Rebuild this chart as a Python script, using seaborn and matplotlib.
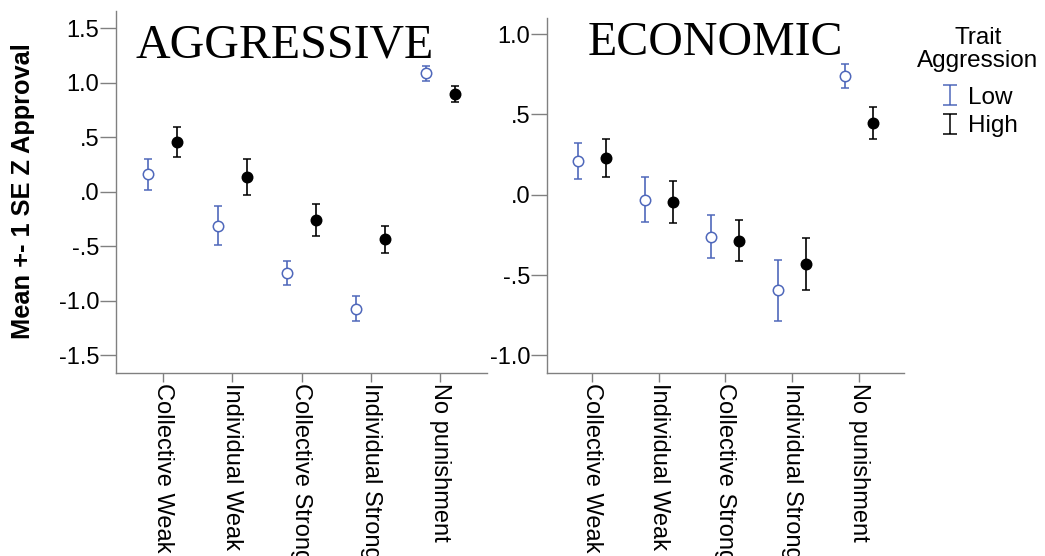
import numpy as np
import pandas as pd
import matplotlib
matplotlib.use("Agg")
import matplotlib.pyplot as plt
from matplotlib.lines import Line2D
from matplotlib.path import Path
from matplotlib.ticker import FuncFormatter
import seaborn as sns

# 数据：平均值与标准误
conditions = ["Collective Weak", "Individual Weak", "Collective Strong",
              "Individual Strong", "No punishment"]
traits = ["Low", "High"]

aggr_low_mean = [0.16, -0.31, -0.74, -1.07, 1.085]
aggr_low_se = [0.14, 0.18, 0.11, 0.115, 0.07]
aggr_high_mean = [0.455, 0.14, -0.26, -0.435, 0.895]
aggr_high_se = [0.14, 0.165, 0.145, 0.125, 0.075]

econ_low_mean = [0.21, -0.03, -0.26, -0.595, 0.74]
econ_low_se = [0.11, 0.14, 0.135, 0.19, 0.075]
econ_high_mean = [0.23, -0.045, -0.285, -0.43, 0.445]
econ_high_se = [0.12, 0.13, 0.13, 0.16, 0.10]

rows = []
for panel, lm, ls, hm, hs in [
    ("AGGRESSIVE", aggr_low_mean, aggr_low_se, aggr_high_mean, aggr_high_se),
    ("ECONOMIC", econ_low_mean, econ_low_se, econ_high_mean, econ_high_se),
]:
    for i, cond in enumerate(conditions):
        rows.append((panel, cond, "Low", lm[i], ls[i]))
        rows.append((panel, cond, "High", hm[i], hs[i]))
df = pd.DataFrame(rows, columns=["panel", "condition", "trait", "mean", "se"])

low_color = "#4f68bb"
high_color = "#000000"
spine_color = "#808080"

sns.set_style("ticks")
plt.rcParams["font.family"] = ["Liberation Sans", "DejaVu Sans"]
plt.rcParams["text.color"] = "black"
plt.rcParams["axes.labelcolor"] = "black"
plt.rcParams["xtick.color"] = "black"
plt.rcParams["ytick.color"] = "black"

W, H = 1045, 556
fig = plt.figure(figsize=(W / 100, H / 100), dpi=100)
ax1 = fig.add_axes([116 / W, 1 - 372.5 / H, 371 / W, 362 / H])
ax2 = fig.add_axes([546.7 / W, 1 - 372.5 / H, 357.5 / W, 354.5 / H])

styles = {
    "Low": dict(color=low_color, mfc="white", offset=-0.21),
    "High": dict(color=high_color, mfc=high_color, offset=0.21),
}


def fmt(v, pos):
    s = f"{v:.1f}"
    s = s.replace("0.", ".", 1) if s.startswith(("0.", "-0.")) else s
    return s


for ax, panel, ylim, yticks in [
    (ax1, "AGGRESSIVE", (-1.656, 1.662), np.arange(-1.5, 1.51, 0.5)),
    (ax2, "ECONOMIC", (-1.106, 1.10), np.arange(-1.0, 1.01, 0.5)),
]:
    sub = df[df["panel"] == panel]
    for trait in traits:
        d = sub[sub["trait"] == trait]
        st = styles[trait]
        x = d["condition"].map({c: i for i, c in enumerate(conditions)}) + st["offset"]
        ax.errorbar(x, d["mean"], yerr=d["se"], fmt="o", color=st["color"],
                    mfc=st["mfc"], mec=st["color"], ms=7.5, mew=1.1,
                    elinewidth=1.2, capsize=2.8, capthick=1.2)
    ax.set_xlim(-0.677, 4.677)
    ax.set_ylim(*ylim)
    ax.set_xticks(range(len(conditions)))
    ax.set_xticklabels(conditions)
    ax.set_yticks(yticks)
    ax.yaxis.set_major_formatter(FuncFormatter(fmt))
    sns.despine(ax=ax)
    for sp in ["left", "bottom"]:
        ax.spines[sp].set_color(spine_color)
        ax.spines[sp].set_linewidth(1.0)
    ax.tick_params(axis="y", length=11.5, width=1, color=spine_color,
                   labelcolor="black", pad=0.5, labelsize=17)
    ax.tick_params(axis="x", length=6.5, width=1, color=spine_color,
                   labelcolor="black", pad=1, labelsize=17, labelrotation=270)

ax1.set_ylabel("Mean +- 1 SE Z Approval", fontsize=18.3, fontweight="bold")
ax1.yaxis.set_label_coords(-0.218, 0.5)

fig.text(284.5 / W, 1 - 57 / H, "AGGRESSIVE", family=["Liberation Serif"],
         fontsize=34.5, ha="center", va="baseline")
fig.text(715 / W, 1 - 55 / H, "ECONOMIC", family=["Liberation Serif"],
         fontsize=34.5, ha="center", va="baseline")

# 图例标题单独放置，居中对齐
fig.text(978 / W, 1 - 27 / H, "Trait\nAggression", fontsize=17.5,
         ha="center", va="top", multialignment="center", linespacing=1.05)

# 误差棒形状的图例标记
ibar = Path([(-0.35, 0.5), (0.35, 0.5), (0, 0.5), (0, -0.5),
             (-0.35, -0.5), (0.35, -0.5)],
            [Path.MOVETO, Path.LINETO, Path.MOVETO, Path.LINETO,
             Path.MOVETO, Path.LINETO])
handles = [
    Line2D([], [], linestyle="none", marker=ibar, color=low_color,
           markersize=14, markeredgewidth=1.1, fillstyle="none"),
    Line2D([], [], linestyle="none", marker=ibar, color=high_color,
           markersize=14, markeredgewidth=1.1, fillstyle="none"),
]
fig.legend(handles, traits, loc="center left",
           bbox_to_anchor=(940 / W, 1 - 112 / H), frameon=False,
           fontsize=17.5, borderpad=0, borderaxespad=0,
           handlelength=0.8, handletextpad=0.35, labelspacing=0.25)

fig.savefig("out.png", dpi=100)
